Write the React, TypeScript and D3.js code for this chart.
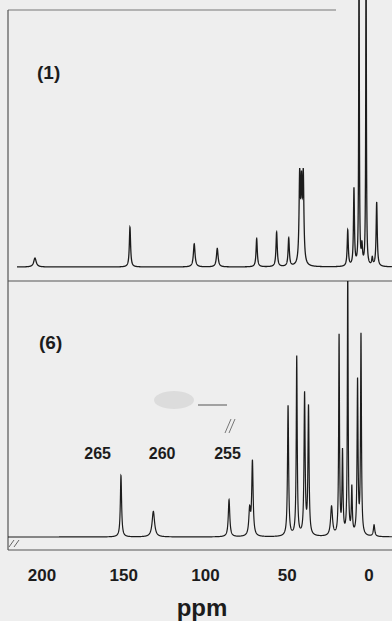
import React from "react";
import * as d3 from "d3";

// spectrum (1), top panel: peak positions (ppm), relative heights, half widths
const topPpm = [204.3, 146.2, 106.9, 92.8, 68.7, 56.5, 49.1, 42.4, 41.3, 40.2, 13.0, 9.2, 6.1, 4.3, 1.8, -2.0, -4.7];
const topHeight = [0.035, 0.155, 0.09, 0.072, 0.11, 0.135, 0.11, 0.33, 0.28, 0.33, 0.14, 0.3, 1.3, 0.07, 1.3, 0.03, 0.25];
const topWidth = [0.9, 0.45, 0.6, 0.6, 0.45, 0.45, 0.45, 0.45, 0.45, 0.45, 0.4, 0.35, 0.22, 0.4, 0.22, 0.4, 0.4];

// spectrum (6), bottom panel
const botPpm = [151.7, 131.9, 85.6, 73.0, 71.3, 49.5, 44.2, 39.4, 37.0, 22.9, 18.3, 16.2, 13.0, 10.5, 7.0, 4.9, -3.1];
const botHeight = [0.24, 0.1, 0.145, 0.1, 0.29, 0.51, 0.7, 0.55, 0.5, 0.115, 0.78, 0.32, 1.05, 0.18, 0.6, 0.78, 0.045];
const botWidth = [0.45, 0.9, 0.55, 0.6, 0.5, 0.4, 0.35, 0.4, 0.4, 0.7, 0.3, 0.35, 0.28, 0.35, 0.35, 0.32, 0.5];

const tickValues = [200, 150, 100, 50, 0];
const insetLabels = ["265", "260", "255"];
const insetLabelPpm = [166, 126.5, 86.5];

const W = 392;
const H = 621;
const font = "'Liberation Sans', Arial, sans-serif";
const ink = "#1c1c1c";

const spectrum = (ppm: number[], hgt: number[], wid: number[], from: number, to: number) => {
  const pts: [number, number][] = [];
  for (const x of d3.range(from, to, -0.04)) {
    let y = 0;
    for (let i = 0; i < ppm.length; i++) {
      const w = wid[i];
      y += (hgt[i] * w * w) / ((x - ppm[i]) * (x - ppm[i]) + w * w);
    }
    pts.push([x, y]);
  }
  return pts;
};

const App: React.FC = () => {
  const x = d3.scaleLinear().domain([200, 0]).range([42, 369]);
  const yTop = d3.scaleLinear().domain([0, 1]).range([267, 10]);
  const yBot = d3.scaleLinear().domain([0, 1]).range([537, 281]);

  const lineTop = d3.line<[number, number]>().x(d => x(d[0])).y(d => yTop(d[1]));
  const lineBot = d3.line<[number, number]>().x(d => x(d[0])).y(d => yBot(d[1]));

  const topData = spectrum(topPpm, topHeight, topWidth, x.invert(17), x.invert(W));
  const botData = spectrum(botPpm, botHeight, botWidth, x.invert(8), x.invert(W));

  return (
    <svg width={W} height={H} style={{ position: "absolute", left: 0, top: 0 }}>
      <defs>
        <clipPath id="clipBot">
          <rect x={8} y={281} width={W} height={270} />
        </clipPath>
      </defs>
      <rect width={W} height={H} fill="#eeeeee" />

      {/* frame */}
      <line x1={8} x2={336} y1={10} y2={10} stroke="#777" strokeWidth={1.2} />
      <line x1={8} x2={8} y1={10} y2={550} stroke="#555" strokeWidth={1.2} />
      <line x1={8} x2={W} y1={281} y2={281} stroke="#555" strokeWidth={1.2} />
      <line x1={8} x2={W} y1={550} y2={550} stroke="#555" strokeWidth={1.2} />

      {/* axis break marks */}
      <path d="M9,547 L14,540 M14,547 L19,540" stroke="#666" strokeWidth={1} fill="none" />

      {/* spectra */}
      <path d={lineTop(topData) || ""} fill="none" stroke={ink} strokeWidth={1.3} />
      <path d={lineBot(botData) || ""} fill="none" stroke={ink} strokeWidth={1.2} clipPath="url(#clipBot)" />

      {/* panel labels */}
      <text x={37} y={79} fontFamily={font} fontWeight="bold" fontSize={19} fill={ink}>(1)</text>
      <text x={39} y={349} fontFamily={font} fontWeight="bold" fontSize={19} fill={ink}>(6)</text>

      {/* inset labels */}
      {insetLabels.map((t, i) => (
        <text key={t} x={x(insetLabelPpm[i])} y={459} textAnchor="middle" fontFamily={font}
          fontWeight="bold" fontSize={16} fill={ink}>{t}</text>
      ))}
      <ellipse cx={174} cy={400} rx={20} ry={9} fill="#dcdcdc" />
      <line x1={198} x2={227} y1={405} y2={405} stroke="#555" strokeWidth={1} />
      <path d="M225,433 L231,419 M229,433 L235,419" stroke="#777" strokeWidth={1} fill="none" />

      {/* x axis labels */}
      {tickValues.map(v => (
        <text key={v} x={x(v)} y={581} textAnchor="middle" fontFamily={font} fontWeight="bold"
          fontSize={17} fill={ink}>{v}</text>
      ))}
      <text x={202} y={616} textAnchor="middle" fontFamily={font} fontWeight="bold" fontSize={24} fill={ink}>ppm</text>
    </svg>
  );
};

export default App;
